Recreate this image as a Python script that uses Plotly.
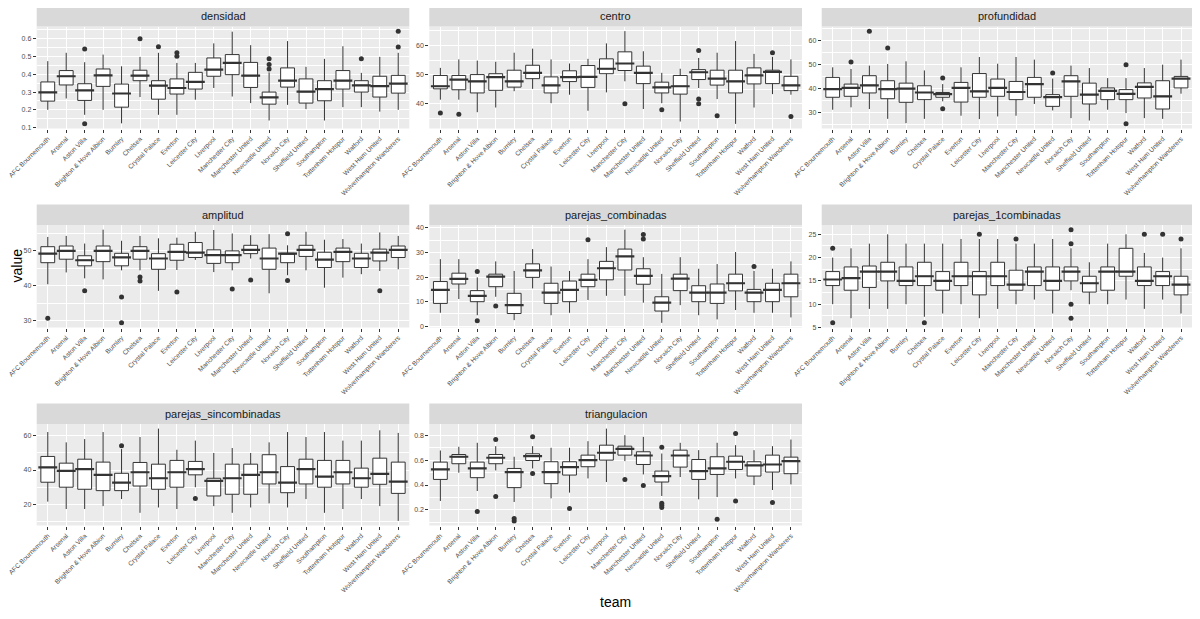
import plotly.graph_objects as go

teams = ["AFC Bournemouth", "Arsenal", "Aston Villa", "Brighton & Hove Albion", "Burnley",
         "Chelsea", "Crystal Palace", "Everton", "Leicester City", "Liverpool",
         "Manchester City", "Manchester United", "Newcastle United", "Norwich City",
         "Sheffield United", "Southampton", "Tottenham Hotspur", "Watford",
         "West Ham United", "Wolverhampton Wanderers"]

facet_names = ["densidad", "centro", "profundidad", "amplitud", "parejas_combinadas",
               "parejas_1combinadas", "parejas_sincombinadas", "triangulacion"]

# ---- densidad ----
dens_low = [0.200, 0.264, 0.172, 0.200, 0.124, 0.272, 0.172, 0.172, 0.257, 0.323, 0.275, 0.238, 0.140, 0.228, 0.204, 0.140, 0.215, 0.215, 0.190, 0.200]
dens_q1 = [0.249, 0.340, 0.253, 0.332, 0.215, 0.364, 0.260, 0.289, 0.317, 0.389, 0.398, 0.326, 0.232, 0.328, 0.238, 0.251, 0.317, 0.300, 0.272, 0.294]
dens_med = [0.298, 0.389, 0.309, 0.394, 0.292, 0.392, 0.336, 0.323, 0.357, 0.426, 0.464, 0.392, 0.270, 0.364, 0.302, 0.317, 0.364, 0.338, 0.334, 0.348]
dens_q3 = [0.357, 0.421, 0.347, 0.430, 0.345, 0.423, 0.364, 0.374, 0.411, 0.492, 0.511, 0.467, 0.300, 0.436, 0.374, 0.364, 0.421, 0.364, 0.389, 0.394]
dens_up = [0.474, 0.521, 0.468, 0.511, 0.445, 0.498, 0.521, 0.464, 0.464, 0.574, 0.640, 0.564, 0.411, 0.587, 0.442, 0.487, 0.558, 0.408, 0.498, 0.521]
dens_out_team = ["Aston Villa", "Aston Villa", "Chelsea", "Crystal Palace", "Everton", "Everton",
                 "Newcastle United", "Newcastle United", "Newcastle United", "Watford",
                 "Wolverhampton Wanderers", "Wolverhampton Wanderers"]
dens_out_val = [0.543, 0.121, 0.600, 0.555, 0.521, 0.502, 0.487, 0.455, 0.430, 0.487, 0.643, 0.553]

# ---- centro ----
cent_low = [41.4, 41.4, 37.1, 38.7, 44.3, 45.1, 40.2, 43.1, 37.6, 43.9, 47.7, 38.2, 40.2, 33.9, 45.4, 41.6, 33.1, 38.7, 43.3, 43.1]
cent_q1 = [45.1, 44.8, 43.7, 44.6, 45.7, 48.6, 43.7, 47.6, 45.6, 50.3, 51.4, 46.9, 43.7, 43.3, 48.3, 46.4, 43.7, 46.8, 46.9, 44.5]
cent_med = [46.0, 48.3, 47.7, 49.1, 47.7, 50.6, 46.3, 49.1, 49.2, 52.0, 53.8, 50.6, 45.6, 46.0, 50.8, 48.6, 47.7, 49.7, 50.9, 46.3]
cent_q3 = [49.7, 49.7, 50.0, 50.3, 51.5, 53.2, 49.2, 51.3, 53.1, 55.4, 57.8, 52.9, 47.4, 49.7, 51.7, 51.5, 51.5, 52.3, 51.5, 49.4]
cent_up = [52.3, 55.2, 54.8, 54.4, 57.5, 58.9, 55.2, 53.8, 55.4, 60.7, 64.9, 58.0, 50.6, 52.0, 55.7, 57.5, 61.5, 57.1, 56.1, 55.2]
cent_out_team = ["AFC Bournemouth", "Arsenal", "Manchester City", "Newcastle United",
                 "Sheffield United", "Sheffield United", "Sheffield United", "Southampton",
                 "West Ham United", "Wolverhampton Wanderers"]
cent_out_val = [36.8, 36.4, 40.0, 37.9, 58.3, 41.6, 40.0, 35.9, 57.5, 35.6]

# ---- profundidad ----
prof_low = [31.0, 32.0, 31.3, 27.2, 25.4, 27.2, 34.5, 28.5, 27.1, 28.2, 28.5, 33.4, 30.7, 27.5, 26.5, 31.0, 29.6, 27.5, 27.2, 37.7]
prof_q1 = [36.2, 36.6, 38.0, 35.6, 34.1, 35.2, 36.2, 34.2, 36.2, 36.6, 35.2, 36.2, 32.4, 36.6, 33.4, 35.2, 35.2, 35.9, 31.3, 40.1]
prof_med = [39.6, 40.1, 41.2, 39.6, 39.8, 38.2, 37.5, 40.1, 38.7, 40.1, 38.4, 41.7, 36.3, 42.8, 37.3, 38.9, 37.6, 40.5, 36.6, 44.0]
prof_q3 = [44.5, 41.7, 45.2, 43.1, 42.1, 41.0, 38.2, 42.4, 46.1, 43.8, 42.8, 44.5, 37.3, 45.2, 42.1, 40.1, 39.4, 42.2, 43.1, 44.9]
prof_up = [48.7, 48.0, 49.4, 50.1, 51.2, 47.4, 41.7, 48.7, 53.0, 50.2, 53.0, 51.9, 44.0, 49.4, 48.4, 44.2, 44.2, 48.4, 49.8, 51.9]
prof_out_team = ["Arsenal", "Aston Villa", "Brighton & Hove Albion", "Crystal Palace", "Crystal Palace",
                 "Newcastle United", "Tottenham Hotspur", "Tottenham Hotspur"]
prof_out_val = [50.9, 63.8, 56.8, 44.2, 31.4, 46.3, 49.8, 25.1]

# ---- amplitud ----
ampl_low = [40.4, 43.8, 42.1, 41.8, 44.4, 44.4, 38.5, 44.5, 47.4, 43.9, 44.4, 47.8, 37.8, 43.0, 44.4, 39.4, 42.3, 43.3, 44.2, 44.7]
ampl_q1 = [46.6, 47.6, 45.7, 46.9, 45.7, 47.6, 44.7, 47.3, 48.1, 46.4, 46.6, 49.2, 44.7, 46.6, 48.4, 45.2, 46.9, 45.2, 47.1, 48.1]
ampl_med = [49.2, 50.0, 47.3, 50.0, 48.1, 50.0, 47.8, 49.7, 49.5, 48.8, 48.8, 50.3, 47.8, 49.2, 50.3, 47.5, 49.7, 47.8, 49.5, 50.3]
ampl_q3 = [51.2, 51.4, 48.6, 51.4, 49.3, 51.2, 49.2, 51.9, 52.4, 50.3, 50.0, 51.6, 50.8, 49.3, 51.6, 49.6, 50.8, 49.3, 50.5, 51.4]
ampl_up = [54.0, 54.3, 52.1, 56.1, 52.9, 54.3, 53.6, 53.8, 55.5, 56.0, 55.0, 54.5, 54.8, 51.6, 55.5, 53.2, 53.4, 52.1, 55.3, 54.3]
ampl_out_team = ["AFC Bournemouth", "Aston Villa", "Burnley", "Burnley", "Chelsea", "Chelsea",
                 "Everton", "Manchester City", "Manchester United", "Norwich City", "Norwich City",
                 "West Ham United"]
ampl_out_val = [30.6, 38.5, 36.7, 29.3, 42.5, 41.3, 38.2, 39.0, 41.6, 54.9, 41.5, 38.5]

# ---- parejas_combinadas ----
pc_low = [5.5, 11.1, 4.5, 12.0, 2.5, 15.4, 4.5, 5.5, 10.7, 12.4, 12.4, 9.6, 1.4, 8.6, 4.5, 2.8, 6.6, 5.5, 5.5, 3.6]
pc_q1 = [9.3, 17.2, 10.0, 16.1, 5.2, 19.9, 9.3, 10.0, 16.1, 18.9, 22.9, 17.1, 6.2, 14.5, 10.0, 9.3, 14.4, 10.0, 10.0, 12.0]
pc_med = [14.8, 19.3, 12.4, 20.2, 8.6, 22.7, 13.7, 14.8, 18.9, 23.6, 28.4, 20.5, 9.6, 19.4, 13.7, 13.7, 17.5, 13.7, 14.8, 17.5]
pc_q3 = [18.2, 21.6, 14.5, 21.2, 13.4, 25.4, 17.5, 18.4, 21.2, 26.4, 31.4, 23.4, 12.0, 21.2, 16.5, 17.2, 21.2, 15.0, 17.5, 21.2]
pc_up = [27.3, 27.3, 19.9, 26.4, 22.5, 31.4, 24.3, 22.5, 27.3, 32.2, 39.3, 28.1, 21.3, 28.1, 23.4, 25.3, 30.2, 22.5, 23.4, 26.4]
pc_out_team = ["Aston Villa", "Aston Villa", "Brighton & Hove Albion", "Leicester City",
               "Manchester United", "Manchester United", "Watford"]
pc_out_val = [22.3, 2.2, 8.2, 35.2, 37.3, 35.5, 24.3]

# ---- parejas_1combinadas ----
p1c_low = [10, 7, 9, 9, 10, 7.3, 8, 10, 7, 9, 10, 11, 8, 13, 10, 10, 11, 9, 11, 8]
p1c_q1 = [14, 13, 13.6, 15, 14, 14, 13, 14, 12, 14, 13, 14, 13, 15, 12.6, 13, 16, 14, 14, 12]
p1c_med = [15.3, 15.6, 17, 17, 15, 16, 15, 16, 16, 16, 14.2, 17, 15, 17, 14.5, 17, 17, 15, 16, 14.2]
p1c_q3 = [17, 18, 18.2, 19, 18, 19, 17, 19, 17, 19, 17.3, 18, 18, 18, 16, 18, 22, 18, 17, 16]
p1c_up = [20, 22, 23, 25, 23, 23, 23, 24, 24, 24, 23, 23, 24, 22, 19, 23, 25, 21, 20, 22]
p1c_out_team = ["AFC Bournemouth", "AFC Bournemouth", "Chelsea", "Leicester City", "Manchester City",
                "Norwich City", "Norwich City", "Norwich City", "Norwich City", "Watford",
                "West Ham United", "Wolverhampton Wanderers"]
p1c_out_val = [22, 6, 6, 25, 24, 26, 23, 10, 7, 25, 25, 24]

# ---- parejas_sincombinadas ----
psc_low = [21.6, 17.3, 17.3, 19.0, 23.1, 15.1, 18.2, 17.3, 30.0, 19.0, 15.1, 18.2, 20.6, 18.2, 23.1, 15.1, 17.3, 23.1, 19.0, 10.4]
psc_q1 = [32.9, 30.0, 28.8, 28.0, 28.0, 30.7, 28.8, 30.0, 37.2, 24.9, 25.9, 25.9, 31.9, 26.8, 31.9, 30.0, 31.9, 30.0, 31.7, 26.4]
psc_med = [41.5, 39.5, 40.5, 37.2, 32.7, 38.7, 35.2, 38.7, 40.5, 33.7, 35.2, 37.2, 38.7, 32.7, 40.5, 36.2, 38.7, 35.2, 37.8, 33.3]
psc_q3 = [47.9, 44.0, 46.3, 44.6, 38.1, 44.4, 43.4, 45.6, 45.0, 35.2, 43.4, 43.4, 48.9, 42.0, 46.3, 45.6, 45.6, 41.1, 46.9, 44.6]
psc_up = [62.1, 56.1, 58.0, 62.1, 52.2, 59.2, 64.1, 51.8, 57.1, 49.9, 52.8, 49.9, 56.1, 62.1, 59.2, 62.1, 57.1, 57.1, 63.1, 61.6]
psc_out_team = ["Burnley", "Leicester City"]
psc_out_val = [54.1, 23.5]

# ---- triangulacion ----
tri_low = [0.272, 0.499, 0.352, 0.517, 0.264, 0.533, 0.293, 0.339, 0.453, 0.424, 0.592, 0.485, 0.312, 0.464, 0.285, 0.304, 0.453, 0.400, 0.360, 0.405]
tri_q1 = [0.445, 0.571, 0.459, 0.571, 0.379, 0.597, 0.411, 0.480, 0.547, 0.600, 0.640, 0.565, 0.424, 0.544, 0.445, 0.485, 0.525, 0.472, 0.504, 0.491]
tri_med = [0.525, 0.627, 0.533, 0.619, 0.504, 0.632, 0.504, 0.544, 0.600, 0.659, 0.691, 0.637, 0.472, 0.637, 0.512, 0.533, 0.587, 0.557, 0.565, 0.592]
tri_q3 = [0.584, 0.645, 0.584, 0.645, 0.533, 0.651, 0.587, 0.587, 0.640, 0.720, 0.712, 0.667, 0.512, 0.680, 0.605, 0.627, 0.632, 0.587, 0.640, 0.624]
tri_up = [0.677, 0.707, 0.739, 0.712, 0.627, 0.712, 0.699, 0.699, 0.752, 0.853, 0.800, 0.787, 0.653, 0.739, 0.680, 0.739, 0.720, 0.680, 0.712, 0.765]
tri_out_team = ["Aston Villa", "Brighton & Hove Albion", "Brighton & Hove Albion", "Burnley", "Burnley",
                "Chelsea", "Chelsea", "Everton", "Manchester City", "Manchester United",
                "Newcastle United", "Newcastle United", "Newcastle United", "Newcastle United",
                "Southampton", "Tottenham Hotspur", "Tottenham Hotspur", "West Ham United"]
tri_out_val = [0.187, 0.765, 0.307, 0.131, 0.112, 0.787, 0.493, 0.211, 0.445, 0.397,
               0.704, 0.253, 0.237, 0.219, 0.125, 0.813, 0.272, 0.259]

y_dticks = [0.1, 10, 10, 10, 10, 5, 20, 0.2]

facets = [
    (dens_low, dens_q1, dens_med, dens_q3, dens_up, dens_out_team, dens_out_val),
    (cent_low, cent_q1, cent_med, cent_q3, cent_up, cent_out_team, cent_out_val),
    (prof_low, prof_q1, prof_med, prof_q3, prof_up, prof_out_team, prof_out_val),
    (ampl_low, ampl_q1, ampl_med, ampl_q3, ampl_up, ampl_out_team, ampl_out_val),
    (pc_low, pc_q1, pc_med, pc_q3, pc_up, pc_out_team, pc_out_val),
    (p1c_low, p1c_q1, p1c_med, p1c_q3, p1c_up, p1c_out_team, p1c_out_val),
    (psc_low, psc_q1, psc_med, psc_q3, psc_up, psc_out_team, psc_out_val),
    (tri_low, tri_q1, tri_med, tri_q3, tri_up, tri_out_team, tri_out_val),
]

# ---- layout geometry (page pixels; the page body has an 8px margin) ----
OFF = 8
W, H = 1200 - 2 * OFF, 619 - 2 * OFF
col_px = [(36.7, 409.3), (429.3, 802.0), (821.7, 1192.0)]
row_px = [(26.5, 128.5), (225.0, 327.5), (424.0, 525.5)]  # panel top, bottom
strip_h = 20.5


def fx(px):
    return (px - OFF) / W


def fy(py):
    return 1 - (py - OFF) / H


INK = "#333333"
TICKC = "#4D4D4D"
FONT = "Liberation Sans, Arial, sans-serif"
TICK_SIZE = 6.6

fig = go.Figure()
layout = dict(
    width=W, height=H,
    margin=dict(l=0, r=0, t=0, b=0),
    paper_bgcolor="white",
    plot_bgcolor="#EBEBEB",
    showlegend=False,
    boxgap=0.25,
    boxgroupgap=0,
    font=dict(family=FONT, color=TICKC),
    shapes=[], annotations=[],
)

for i, (name, data) in enumerate(zip(facet_names, facets)):
    low, q1, med, q3, up, ot, ov = data
    r, c = divmod(i, 3)
    k = "" if i == 0 else str(i + 1)
    xa, ya = "x" + k, "y" + k
    x0, x1 = col_px[c]
    top, bot = row_px[r]

    fig.add_trace(go.Box(
        x=teams, q1=q1, median=med, q3=q3, lowerfence=low, upperfence=up,
        boxpoints=False, fillcolor="white", whiskerwidth=0,
        line=dict(color=INK, width=1), xaxis=xa, yaxis=ya, hoverinfo="skip"))
    # thicker median bar
    fig.add_trace(go.Scatter(
        x=teams, y=med, mode="markers", xaxis=xa, yaxis=ya, hoverinfo="skip",
        marker=dict(symbol="line-ew", size=13.5, color=INK, line=dict(width=2.2, color=INK))))
    # outliers
    fig.add_trace(go.Scatter(
        x=ot, y=ov, mode="markers", xaxis=xa, yaxis=ya, hoverinfo="skip",
        marker=dict(symbol="circle", size=5, color=INK, line=dict(width=0))))

    vals = low + up + ov
    lo, hi = min(vals), max(vals)
    span = hi - lo
    yr = [lo - 0.05 * span, hi + 0.05 * span]
    d = y_dticks[i]

    layout["xaxis" + k] = dict(
        domain=[fx(x0), fx(x1)], anchor=ya,
        type="category", categoryorder="array", categoryarray=teams,
        range=[-0.6, 19.6], showgrid=True, gridcolor="white", gridwidth=1.1,
        zeroline=False, showline=False,
        ticks="outside", ticklen=3, tickwidth=1, tickcolor=INK,
        tickangle=-45, tickfont=dict(size=TICK_SIZE, color=TICKC, family=FONT),
        automargin=False, fixedrange=True)
    layout["yaxis" + k] = dict(
        domain=[fy(bot), fy(top)], anchor=xa,
        range=yr, tick0=0, dtick=d,
        showgrid=True, gridcolor="white", gridwidth=1.1,
        minor=dict(dtick=d / 2, tick0=0, showgrid=True, gridcolor="white", gridwidth=0.5, ticks=""),
        zeroline=False, showline=False,
        ticks="outside", ticklen=3, tickwidth=1, tickcolor=INK,
        tickfont=dict(size=7, color=TICKC, family=FONT),
        automargin=False, fixedrange=True)

    # strip
    layout["shapes"].append(dict(
        type="rect", xref="paper", yref="paper",
        x0=fx(x0), x1=fx(x1), y0=fy(top), y1=fy(top - strip_h),
        fillcolor="#D9D9D9", line=dict(width=0), layer="below"))
    layout["annotations"].append(dict(
        text=name, xref="paper", yref="paper",
        x=fx((x0 + x1) / 2), y=fy(top - strip_h / 2),
        showarrow=False, xanchor="center", yanchor="middle",
        font=dict(size=11, color="#1A1A1A", family=FONT)))

# axis titles
layout["annotations"].append(dict(
    text="value", xref="paper", yref="paper", x=fx(16.5), y=fy(266),
    showarrow=False, textangle=-90, xanchor="center", yanchor="middle",
    font=dict(size=14, color="black", family=FONT)))
layout["annotations"].append(dict(
    text="team", xref="paper", yref="paper", x=fx(615), y=fy(601.5),
    showarrow=False, xanchor="center", yanchor="middle",
    font=dict(size=14, color="black", family=FONT)))

fig.update_layout(**layout)
fig.write_html("out.html", config={"displayModeBar": False})
